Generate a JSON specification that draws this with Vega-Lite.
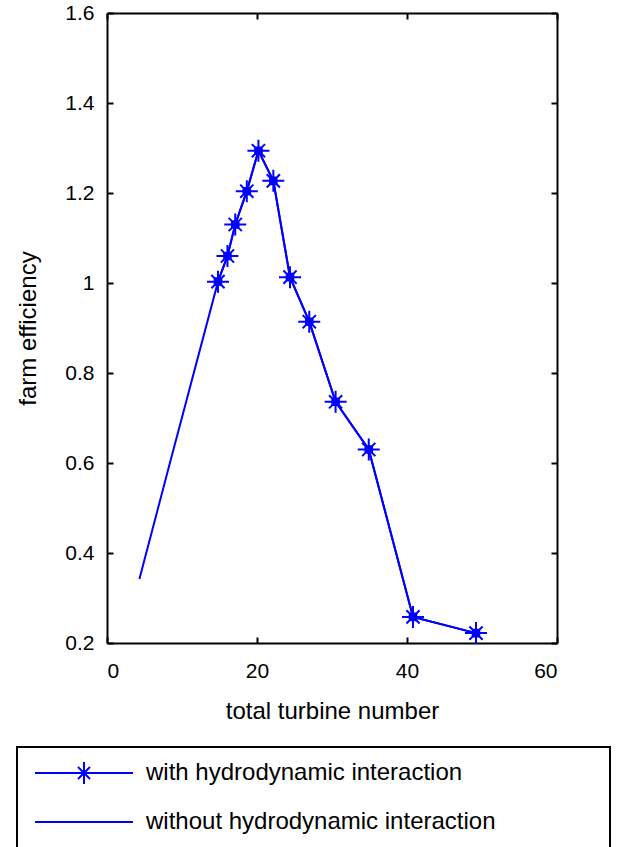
{
  "$schema": "https://vega.github.io/schema/vega-lite/v6.json",
  "width": 450,
  "height": 630,
  "autosize": {"type": "none"},
  "padding": {"left": 107, "top": 13, "right": 65, "bottom": 204},
  "background": "white",
  "config": {
    "view": {"stroke": null},
    "font": "Liberation Sans",
    "axis": {
      "grid": false,
      "domainColor": "black",
      "domainWidth": 2,
      "tickColor": "black",
      "tickWidth": 2,
      "tickSize": -6,
      "labelColor": "black",
      "titleColor": "black",
      "labelFont": "Liberation Sans",
      "titleFont": "Liberation Sans",
      "labelFontSize": 21,
      "titleFontSize": 24,
      "titleFontWeight": "normal"
    }
  },
  "data": {
    "values": [
      {"series": "without hydrodynamic interaction", "n": 4.32, "eff": 0.342},
      {"series": "without hydrodynamic interaction", "n": 8.5, "eff": 0.607},
      {"series": "without hydrodynamic interaction", "n": 14.8, "eff": 1.003},
      {"series": "without hydrodynamic interaction", "n": 16.06, "eff": 1.06},
      {"series": "without hydrodynamic interaction", "n": 17.1, "eff": 1.13},
      {"series": "without hydrodynamic interaction", "n": 18.64, "eff": 1.204},
      {"series": "without hydrodynamic interaction", "n": 20.19, "eff": 1.294},
      {"series": "without hydrodynamic interaction", "n": 22.18, "eff": 1.227},
      {"series": "without hydrodynamic interaction", "n": 24.4, "eff": 1.013},
      {"series": "without hydrodynamic interaction", "n": 26.97, "eff": 0.914},
      {"series": "without hydrodynamic interaction", "n": 30.48, "eff": 0.736},
      {"series": "without hydrodynamic interaction", "n": 34.9, "eff": 0.63},
      {"series": "without hydrodynamic interaction", "n": 40.8, "eff": 0.258},
      {"series": "without hydrodynamic interaction", "n": 49.2, "eff": 0.222},
      {"series": "with hydrodynamic interaction", "n": 14.8, "eff": 1.003},
      {"series": "with hydrodynamic interaction", "n": 16.06, "eff": 1.06},
      {"series": "with hydrodynamic interaction", "n": 17.1, "eff": 1.13},
      {"series": "with hydrodynamic interaction", "n": 18.64, "eff": 1.204},
      {"series": "with hydrodynamic interaction", "n": 20.19, "eff": 1.294},
      {"series": "with hydrodynamic interaction", "n": 22.18, "eff": 1.227},
      {"series": "with hydrodynamic interaction", "n": 24.4, "eff": 1.013},
      {"series": "with hydrodynamic interaction", "n": 26.97, "eff": 0.914},
      {"series": "with hydrodynamic interaction", "n": 30.48, "eff": 0.736},
      {"series": "with hydrodynamic interaction", "n": 34.9, "eff": 0.63},
      {"series": "with hydrodynamic interaction", "n": 40.8, "eff": 0.258},
      {"series": "with hydrodynamic interaction", "n": 49.2, "eff": 0.222}
    ]
  },
  "resolve": {"axis": {"x": "independent", "y": "independent"}},
  "layer": [
    {
      "transform": [{"filter": "datum.series === 'without hydrodynamic interaction'"}],
      "mark": {"type": "line", "strokeWidth": 2, "clip": false},
      "encoding": {
        "x": {"field": "n", "type": "quantitative", "scale": {"domain": [0, 60], "nice": false, "zero": false},
          "axis": {"values": [0, 20, 40, 60], "title": "total turbine number", "labelPadding": 23, "titlePadding": 18, "orient": "bottom"}},
        "y": {"field": "eff", "type": "quantitative", "scale": {"domain": [0.2, 1.6], "nice": false, "zero": false},
          "axis": {"values": [0.2, 0.4, 0.6, 0.8, 1.0, 1.2, 1.4, 1.6], "format": "~g", "title": "farm efficiency", "labelPadding": 19, "titlePadding": 24, "orient": "left"}},
        "color": {"field": "series", "type": "nominal",
          "scale": {"domain": ["with hydrodynamic interaction", "without hydrodynamic interaction"], "range": ["#0000ff", "#0000ff"]},
          "legend": {
            "orient": "none",
            "legendX": -90,
            "legendY": 734,
            "title": null,
            "padding": 14,
            "strokeColor": "black",
            "fillColor": "white",
            "symbolOffset": 2,
            "symbolSize": 400,
            "symbolStrokeWidth": 2,
            "symbolStrokeColor": "#0000ff",
            "symbolFillColor": "transparent",
            "labelFont": "Liberation Sans",
            "labelFontSize": 24,
            "labelColor": "black",
            "labelOffset": 89,
            "labelLimit": 1000,
            "rowPadding": 22,
            "encode": {
              "legend": {"update": {"strokeWidth": {"value": 2}}},
              "symbols": {
                "update": {
                  "shape": {"signal": "datum.value === 'with hydrodynamic interaction' ? 'M-1,0H8.8M3.9,-1.1V1.1M2.8,0H5M3.3,-0.6L4.5,0.6M3.3,0.6L4.5,-0.6M54.7,0' : 'M-1,0H8.8M54.7,0'"},
                  "stroke": {"value": "#0000ff"},
                  "fill": {"value": "transparent"},
                  "opacity": {"value": 1}
                }
              }
            }
          }
        }
      }
    },
    {
      "transform": [{"filter": "datum.series === 'with hydrodynamic interaction'"}],
      "mark": {"type": "line", "strokeWidth": 2, "clip": false},
      "encoding": {
        "x": {"field": "n", "type": "quantitative",
          "axis": {"orient": "top", "values": [0, 20, 40, 60], "labels": false, "title": null}},
        "y": {"field": "eff", "type": "quantitative",
          "axis": {"orient": "right", "values": [0.2, 0.4, 0.6, 0.8, 1.0, 1.2, 1.4, 1.6], "labels": false, "title": null}},
        "color": {"field": "series", "type": "nominal"}
      }
    },
    {
      "transform": [{"filter": "datum.series === 'with hydrodynamic interaction'"}],
      "mark": {"type": "point", "filled": false, "strokeWidth": 2, "size": 484, "opacity": 1,
        "shape": "M-1,0H1M0,-1V1M-0.6,-0.6L0.6,0.6M-0.6,0.6L0.6,-0.6M-0.3,-0.3H0.3V0.3H-0.3Z"},
      "encoding": {
        "x": {"field": "n", "type": "quantitative", "axis": null},
        "y": {"field": "eff", "type": "quantitative", "axis": null},
        "color": {"field": "series", "type": "nominal"}
      }
    }
  ]
}
